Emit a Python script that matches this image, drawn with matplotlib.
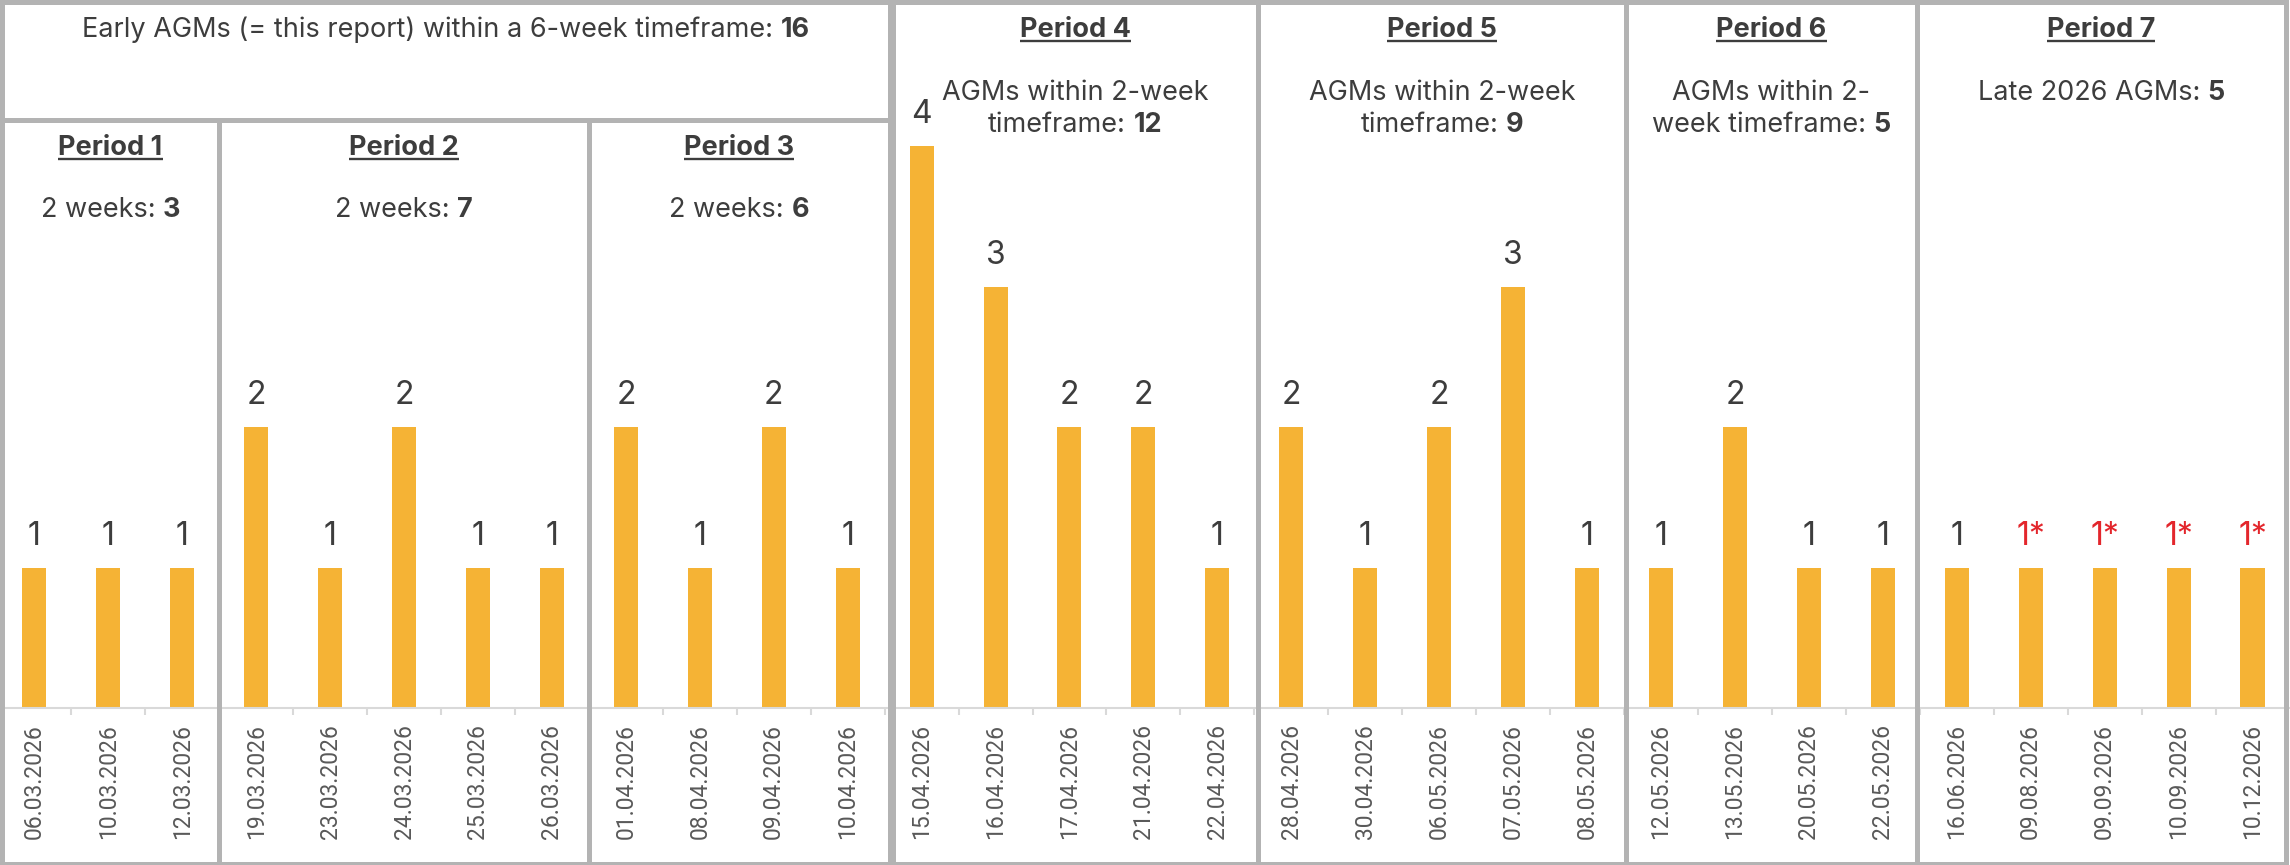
import matplotlib
matplotlib.use("Agg")
import matplotlib.pyplot as plt
from matplotlib.patches import Rectangle
import numpy as np

plt.rcParams['font.family'] = ['Inter', 'DejaVu Sans']

# AGM dates and number of AGMs per date
dates = ["06.03.2026", "10.03.2026", "12.03.2026",
         "19.03.2026", "23.03.2026", "24.03.2026", "25.03.2026", "26.03.2026",
         "01.04.2026", "08.04.2026", "09.04.2026", "10.04.2026",
         "15.04.2026", "16.04.2026", "17.04.2026", "21.04.2026", "22.04.2026",
         "28.04.2026", "30.04.2026", "06.05.2026", "07.05.2026", "08.05.2026",
         "12.05.2026", "13.05.2026", "20.05.2026", "22.05.2026",
         "16.06.2026", "09.08.2026", "09.09.2026", "10.09.2026", "10.12.2026"]
counts = [1, 1, 1,
          2, 1, 2, 1, 1,
          2, 1, 2, 1,
          4, 3, 2, 2, 1,
          2, 1, 2, 3, 1,
          1, 2, 1, 1,
          1, 1, 1, 1, 1]
# dates not yet confirmed (marked with *)
estimated = ["09.08.2026", "09.09.2026", "10.09.2026", "10.12.2026"]

period_names = ["Period 1", "Period 2", "Period 3", "Period 4",
                "Period 5", "Period 6", "Period 7"]
period_sizes = [3, 5, 4, 5, 5, 4, 5]

bar_color = "#F5B335"
text_color = "#3d3d3d"
red = "#E3262C"
border = "#b3b3b3"
axis_grey = "#d9d9d9"
head_size = 19.5

W, H = 2290, 865
unit = 140.5      # px per AGM
base = 708        # px from top to the bar baseline

fig = plt.figure(figsize=(W / 100, H / 100), dpi=100)

ax = fig.add_axes([0, (H - base) / H, 1, base / H])
x = np.arange(len(dates))
ax.bar(x, counts, width=0.325, color=bar_color, zorder=2)
ax.set_xlim(-0.464, 30.507)
ax.set_ylim(0, base / unit)

for i, (d, c) in enumerate(zip(dates, counts)):
    est = d in estimated
    ax.annotate(f"{c}*" if est else f"{c}", (i, c), xytext=(0, 16.5),
                textcoords="offset points", ha="center", va="baseline",
                fontsize=23, color=red if est else text_color)

ax.set_xticks(x)
ax.set_xticklabels(dates, rotation=90, fontsize=16.5, color="#595959",
                   family=["Roboto", "DejaVu Sans"])
ax.tick_params(axis="x", which="major", length=0, pad=11.5)
ax.set_xticks(np.arange(0.5, len(dates) - 1, 1), minor=True)
ax.tick_params(axis="x", which="minor", length=5, width=1.5, color=axis_grey)
ax.set_yticks([])
for side in ["left", "right", "top"]:
    ax.spines[side].set_visible(False)
ax.spines["bottom"].set_color(axis_grey)
ax.spines["bottom"].set_linewidth(1.5)

# overlay in pixel coordinates (y from top) for frames and headings
ov = fig.add_axes([0, 0, 1, 1])
ov.set_xlim(0, W)
ov.set_ylim(H, 0)
ov.axis("off")

renderer = fig.canvas.get_renderer()


def text_w(s, **kw):
    t = ov.text(0, 0, s, **kw)
    w = t.get_window_extent(renderer).width
    t.remove()
    return w


def rich_line(cx, y, parts, size=head_size):
    space = text_w("a a", fontsize=size) - text_w("aa", fontsize=size)
    widths = [text_w(s, fontsize=size, fontweight="bold" if b else "normal")
              for s, b in parts]
    total = sum(widths) + space * (len(parts) - 1)
    left = cx - total / 2
    for (s, b), w in zip(parts, widths):
        ov.text(left, y, s, fontsize=size, fontweight="bold" if b else "normal",
                color=text_color, ha="left", va="baseline")
        left += w + space


def period_title(cx, y, name, size=head_size):
    ov.text(cx, y, name, fontsize=size, fontweight="bold", color=text_color,
            ha="center", va="baseline")
    w = text_w(name, fontsize=size, fontweight="bold")
    ov.plot([cx - w / 2, cx + w / 2], [y + 3.5, y + 3.5], color=text_color,
            lw=1.7, solid_capstyle="butt")


# frame edges (px)
edges = [(2, 219), (219, 589), (589, 889.5), (892.5, 1258),
         (1258, 1626), (1626, 1917), (1917, 2285.5)]
tops = [120, 120, 120, 2, 2, 2, 2]
bottom = 863.5

ov.add_patch(Rectangle((2, 2), 889.5 - 2, 120 - 2, fill=False,
                       edgecolor=border, lw=3.6))
for (x0, x1), top in zip(edges, tops):
    ov.add_patch(Rectangle((x0, top), x1 - x0, bottom - top, fill=False,
                           edgecolor=border, lw=3.6))

# period totals
starts = np.cumsum([0] + period_sizes)
totals = [sum(counts[starts[k]:starts[k + 1]]) for k in range(len(period_sizes))]

rich_line((2 + 889.5) / 2, 37,
          [("Early AGMs (= this report) within a 6-week timeframe:", False),
           (str(sum(totals[:3])), True)])

for k in range(3):
    cx = sum(edges[k]) / 2
    period_title(cx, 155, period_names[k])
    rich_line(cx, 217, [("2 weeks:", False), (str(totals[k]), True)])

cx = sum(edges[3]) / 2
period_title(cx, 37, period_names[3])
rich_line(cx, 100, [("AGMs within 2-week", False)])
rich_line(cx, 132, [("timeframe:", False), (str(totals[3]), True)])

cx = sum(edges[4]) / 2
period_title(cx, 37, period_names[4])
rich_line(cx, 100, [("AGMs within 2-week", False)])
rich_line(cx, 132, [("timeframe:", False), (str(totals[4]), True)])

cx = sum(edges[5]) / 2
period_title(cx, 37, period_names[5])
rich_line(cx, 100, [("AGMs within 2-", False)])
rich_line(cx, 132, [("week timeframe:", False), (str(totals[5]), True)])

cx = sum(edges[6]) / 2
period_title(cx, 37, period_names[6])
rich_line(cx, 100, [("Late 2026 AGMs:", False), (str(totals[6]), True)])

fig.savefig("out.png", dpi=100)
